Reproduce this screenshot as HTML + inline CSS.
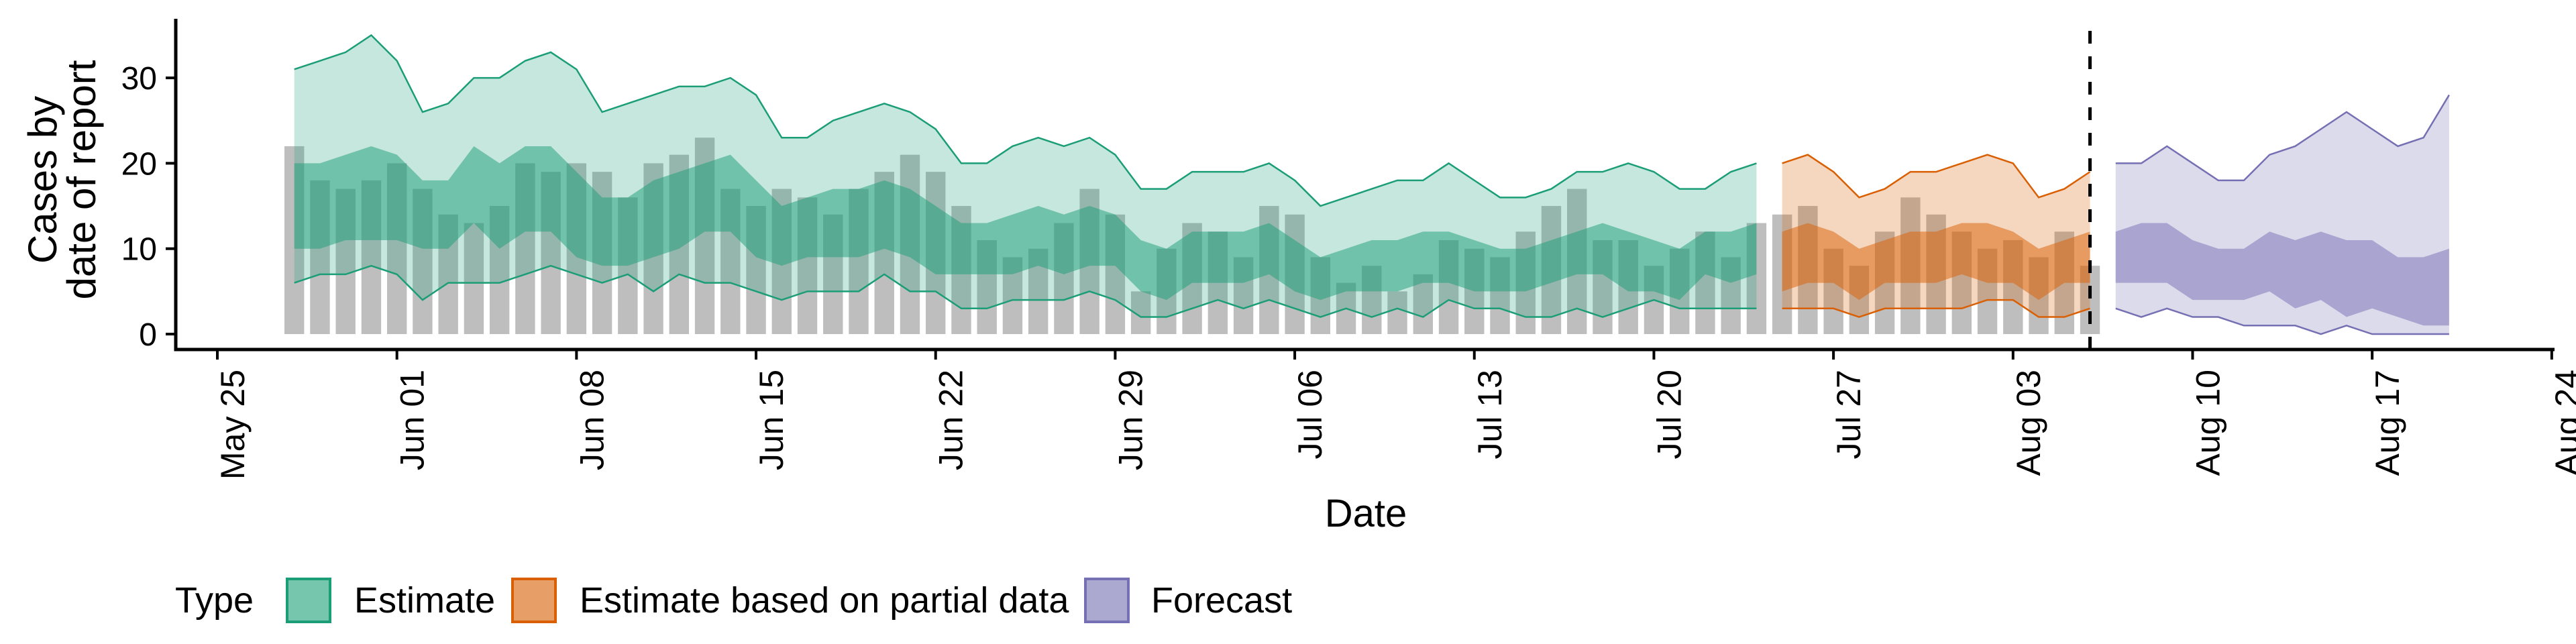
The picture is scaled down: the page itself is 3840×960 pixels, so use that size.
<!DOCTYPE html>
<html><head><meta charset="utf-8">
<style>
html,body{margin:0;padding:0;background:#fff;}
svg{display:block;font-family:"Liberation Sans",sans-serif;}
</style></head>
<body>
<svg id="chart" width="3840" height="960" viewBox="0 0 3840 960" xmlns="http://www.w3.org/2000/svg">
<g id="bars"></g>
<g id="ribbons"></g>
<g id="axes"></g>
<g id="legend"></g>
</svg>
<script>
// ---- data ----
const tickLabels = ["May 25","Jun 01","Jun 08","Jun 15","Jun 22","Jun 29","Jul 06","Jul 13","Jul 20","Jul 27","Aug 03","Aug 10","Aug 17","Aug 24"];
const tickDays = [0,7,14,21,28,35,42,49,56,63,70,77,84,91];
const yTicks = [0,10,20,30];
const barStartDay = 3;
const barValues = [22,18,17,18,20,17,14,13,15,20,19,20,19,16,20,21,23,17,15,17,16,14,17,19,21,19,
 15,11,9,10,13,17,14,5,10,13,12,9,15,14,9,6,8,5,7,11,10,9,12,15,17,11,11,8,10,12,9,13,
 14,15,10,8,12,16,14,12,10,11,9,12,8];
const estStartDay = 3;
const estOuterUpper = [31,32,33,35,32,26,27,30,30,32,33,31,26,27,28,29,29,30,28,23,23,25,26,27,26,24,
 20,20,22,23,22,23,21,17,17,19,19,19,20,18,15,16,17,18,18,20,18,16,16,17,19,19,20,19,17,17,19,20];
const estInnerUpper = [20,20,21,22,21,18,18,22,20,22,22,19,16,16,18,19,20,21,18,15,16,17,17,18,17,15,
 13,13,14,15,14,15,14,11,10,12,12,12,13,11,9,10,11,11,12,12,11,10,10,11,12,13,12,11,10,12,12,13];
const estInnerLower = [10,10,11,11,11,10,10,13,10,12,12,9,8,8,9,10,12,12,9,8,9,9,9,10,9,7,
 7,7,7,8,7,8,8,5,4,6,6,6,7,5,4,5,5,5,6,6,5,5,5,6,7,7,5,5,4,7,6,7];
const estOuterLower = [6,7,7,8,7,4,6,6,6,7,8,7,6,7,5,7,6,6,5,4,5,5,5,7,5,5,
 3,3,4,4,4,5,4,2,2,3,4,3,4,3,2,3,2,3,2,4,3,3,2,2,3,2,3,4,3,3,3,3];
const partStartDay = 61;
const partOuterUpper = [20,21,19,16,17,19,19,20,21,20,16,17,19];
const partInnerUpper = [12,13,12,10,11,12,12,13,13,12,10,11,12];
const partInnerLower = [5,6,6,4,6,6,6,7,6,6,4,6,6];
const partOuterLower = [3,3,3,2,3,3,3,3,4,4,2,2,3];
const fcStartDay = 74;
const fcOuterUpper = [20,20,22,20,18,18,21,22,24,26,24,22,23,28];
const fcInnerUpper = [12,13,13,11,10,10,12,11,12,11,11,9,9,10];
const fcInnerLower = [6,6,6,4,4,4,5,3,4,2,3,2,1,1];
const fcOuterLower = [3,2,3,2,2,1,1,1,0,1,0,0,0,0];
const dataCutoffDay = 73;

// ---- scales ----
const X0 = 324, DAY = 38.24;
const x = d => X0 + DAY * d;
const Y0 = 498, UNIT = 12.73;
const y = v => Y0 - UNIT * v;
const NS = "http://www.w3.org/2000/svg";
function mk(tag, attrs, parent){ const e=document.createElementNS(NS,tag); for(const k in attrs) e.setAttribute(k,attrs[k]); parent.appendChild(e); return e; }

// bars
const gb = document.getElementById('bars');
barValues.forEach((v,i)=>{
  const d = barStartDay + i;
  const r = mk('rect',{x:x(d)-14.7,y:y(v),width:29.4,height:Y0-y(v),fill:'#bebebe'},gb);
  
  
});

// ribbons
const gr = document.getElementById('ribbons');
function band(start, upper, lower, color, alpha, name){
  let pts = upper.map((v,i)=>x(start+i)+','+y(v));
  for(let i=lower.length-1;i>=0;i--) pts.push(x(start+i)+','+y(lower[i]));
  const p = mk('polygon',{points:pts.join(' '),fill:color,'fill-opacity':alpha},gr);
  
  
}
function line(start, vals, color, name){
  const p = mk('polyline',{points:vals.map((v,i)=>x(start+i)+','+y(v)).join(' '),fill:'none',stroke:color,'stroke-width':2.5},gr);
  
  
}
const series = [
  [estStartDay, estOuterUpper, estInnerUpper, estInnerLower, estOuterLower, '#1b9e77', 'estimate'],
  [partStartDay, partOuterUpper, partInnerUpper, partInnerLower, partOuterLower, '#d95f02', 'partial-estimate'],
  [fcStartDay, fcOuterUpper, fcInnerUpper, fcInnerLower, fcOuterLower, '#7570b3', 'forecast']
];
series.forEach(s=>{
  band(s[0], s[1], s[4], s[5], 0.25, s[6]+'-outer-band');
  band(s[0], s[2], s[3], s[5], 0.5, s[6]+'-inner-band');
  line(s[0], s[1], s[5], s[6]+'-upper-line');
  line(s[0], s[4], s[5], s[6]+'-lower-line');
});

// axes
const ga = document.getElementById('axes');
const cut = mk('line',{x1:x(dataCutoffDay),x2:x(dataCutoffDay),y1:46,y2:521,stroke:'#000','stroke-width':5,'stroke-dasharray':'19 19'},ga);


const ya = mk('line',{x1:262,x2:262,y1:28,y2:523.5,stroke:'#000','stroke-width':5},ga);


const xa = mk('line',{x1:259.5,x2:3808,y1:521,y2:521,stroke:'#000','stroke-width':5},ga);


yTicks.forEach(v=>{
  const t = mk('line',{x1:247,x2:262,y1:y(v),y2:y(v),stroke:'#000','stroke-width':4},ga);
  
  
  const l = mk('text',{x:234,y:y(v)+17,'text-anchor':'end','font-size':48,fill:'#000'},ga);
  l.textContent = v;
  
  
});
tickDays.forEach((d,i)=>{
  const t = mk('line',{x1:x(d),x2:x(d),y1:521,y2:536,stroke:'#000','stroke-width':4},ga);
  
  
  const l = mk('text',{transform:`translate(${x(d)+40},551) rotate(-90)`,'text-anchor':'end','font-size':50,fill:'#000'},ga);
  l.textContent = tickLabels[i];
  
  
});
const xt = mk('text',{x:2036,y:785,'text-anchor':'middle','font-size':58,fill:'#000'},ga);
xt.textContent = 'Date';


const yt = mk('text',{transform:'translate(84,268) rotate(-90)','text-anchor':'middle','font-size':60,fill:'#000'},ga);


const t1 = mk('tspan',{x:0,dy:0},yt); t1.textContent='Cases by';
const t2 = mk('tspan',{x:0,dy:58},yt); t2.textContent='date of report';

// legend
const gl = document.getElementById('legend');
const lt = mk('text',{x:261,y:913,'font-size':54,fill:'#000'},gl);
lt.textContent='Type';


const legendItems = [['Estimate','#1b9e77',428,528],['Estimate based on partial data','#d95f02',764,864],['Forecast','#7570b3',1618,1716]];
legendItems.forEach(it=>{
  const g = mk('g',{},gl);
  
  
  mk('rect',{x:it[2],y:863,width:64,height:64,fill:'#fff',stroke:'none'},g);
  mk('rect',{x:it[2],y:863,width:64,height:64,fill:it[1],'fill-opacity':0.6,stroke:it[1],'stroke-width':4},g);
  const tx = mk('text',{x:it[3],y:913,'font-size':54,fill:'#000'},g);
  tx.textContent = it[0];
});
</script>
</body></html>
